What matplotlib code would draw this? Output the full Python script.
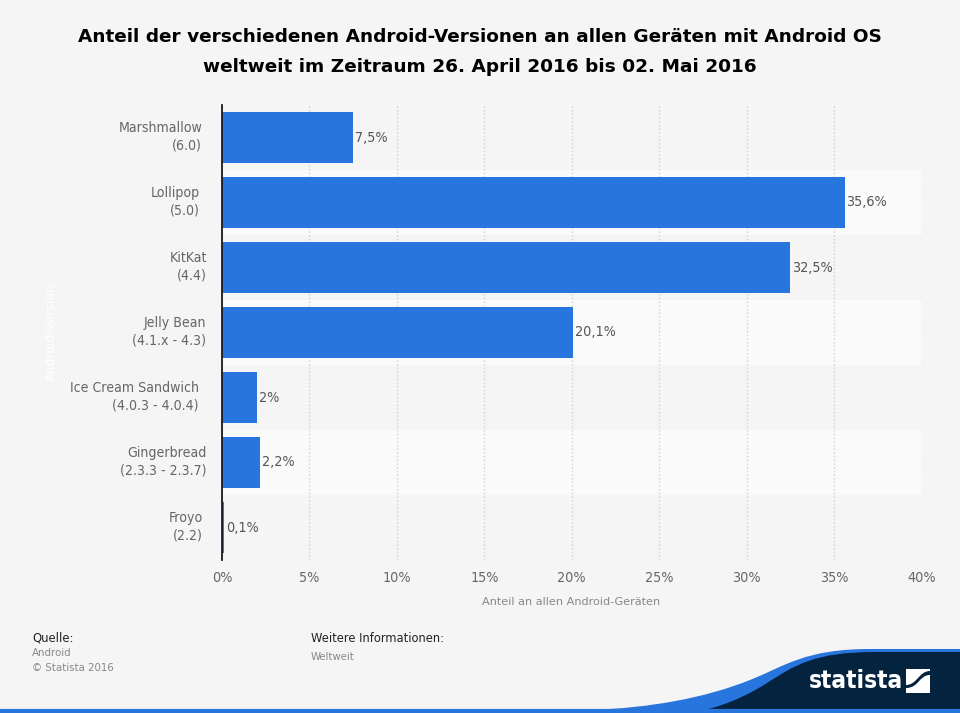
import matplotlib
matplotlib.use("Agg")
import matplotlib.pyplot as plt
from matplotlib.patches import PathPatch
from matplotlib.path import Path

versions = ["Marshmallow\n(6.0)", "Lollipop\n(5.0)", "KitKat\n(4.4)", "Jelly Bean\n(4.1.x - 4.3)",
            "Ice Cream Sandwich\n(4.0.3 - 4.0.4)", "Gingerbread\n(2.3.3 - 2.3.7)", "Froyo\n(2.2)"]
shares = [7.5, 35.6, 32.5, 20.1, 2.0, 2.2, 0.1]
share_labels = ["7,5%", "35,6%", "32,5%", "20,1%", "2%", "2,2%", "0,1%"]
xticks = [0, 5, 10, 15, 20, 25, 30, 35, 40]

# the labels in the original are not lined up, right edge in pixels
label_right = [202, 200, 207, 206, 199, 207, 203]

BG = "#f5f5f5"
BLUE = "#2875de"
NAVY = "#04233f"
COND = "condensed"
W, H = 960, 713

plt.rcParams["font.family"] = ["DejaVu Sans"]

fig = plt.figure(figsize=(9.6, 7.13), dpi=100, facecolor=BG)
ax = fig.add_axes([222 / W, 1 - 560 / H, 699.5 / W, 455 / H], facecolor=BG)
overlay = fig.add_axes([0, 0, 1, 1], facecolor="none")
overlay.set_xlim(0, W)
overlay.set_ylim(H, 0)
overlay.axis("off")

# alternating row bands
for i in range(len(shares)):
    if i % 2 == 1:
        ax.axhspan(i - 0.5, i + 0.5, color="#fafafa", lw=0, zorder=0)

ax.barh(range(len(shares)), shares, height=51 / 65, color=BLUE, zorder=3)
ax.set_xlim(0, 40)
ax.set_ylim(len(shares) - 0.5, -0.5)

ax.grid(axis="x", color="#d2d2d2", linestyle=":", linewidth=1, zorder=1)
ax.set_axisbelow(True)
for side in ["top", "right", "bottom"]:
    ax.spines[side].set_visible(False)
ax.spines["left"].set_color("#1a1a1a")
ax.spines["left"].set_linewidth(1.3)
ax.spines["left"].set_zorder(5)

ax.set_xticks(xticks)
ax.set_xticklabels([f"{t}%" for t in xticks], color="#666666", fontsize=10.3, stretch=COND)
ax.tick_params(axis="x", length=0, pad=8)
ax.set_yticks([])

for i, (val, lab) in enumerate(zip(shares, share_labels)):
    ax.annotate(lab, (val, i), xytext=(1.4, 0), textcoords="offset points", va="center", ha="left",
                color="#555555", fontsize=10.3, stretch=COND, zorder=6)

for i, (name, right) in enumerate(zip(versions, label_right)):
    overlay.text(right, 137 + i * 65, name, ha="right", va="center", color="#666666",
                 fontsize=10.1, stretch=COND, linespacing=1.3, multialignment="right")

overlay.text(480, 52, "Anteil der verschiedenen Android-Versionen an allen Geräten mit Android OS\n"
             "weltweit im Zeitraum 26. April 2016 bis 02. Mai 2016",
             ha="center", va="center", fontsize=13.3, fontweight="bold",
             color="#000000", linespacing=1.85)

overlay.text(571, 602, "Anteil an allen Android-Geräten", ha="center", va="center",
             color="#888888", fontsize=8.1)
overlay.text(51, 332, "Android-Version", rotation=90, ha="center", va="center",
             color="#ffffff", fontsize=9)

overlay.text(32, 638, "Quelle:", ha="left", va="center", color="#222222", fontsize=8.4)
overlay.text(32, 653, "Android", ha="left", va="center", color="#888888", fontsize=8.2, stretch=COND)
overlay.text(32, 668, "© Statista 2016", ha="left", va="center", color="#888888", fontsize=8.2, stretch=COND)
overlay.text(311, 639, "Weitere Informationen:", ha="left", va="center", color="#222222", fontsize=8.3)
overlay.text(311, 657, "Weltweit", ha="left", va="center", color="#888888", fontsize=8.1, stretch=COND)

# footer swoosh
overlay.plot([0, 960], [711, 711], color=BLUE, lw=3, solid_capstyle="butt")
curve = Path([(590, 710), (650, 708), (705, 698), (750, 680), (785, 666), (805, 649), (870, 649),
              (960, 649), (960, 713), (590, 713), (590, 710)],
             [Path.MOVETO, Path.CURVE4, Path.CURVE4, Path.CURVE4, Path.CURVE4, Path.CURVE4, Path.CURVE4,
              Path.LINETO, Path.LINETO, Path.LINETO, Path.CLOSEPOLY])
overlay.add_patch(PathPatch(curve, facecolor=BLUE, edgecolor="none"))
dark = Path([(690, 713), (720, 708), (745, 697), (767, 683), (795, 665), (815, 652), (875, 652),
             (960, 652), (960, 713), (690, 713)],
            [Path.MOVETO, Path.CURVE4, Path.CURVE4, Path.CURVE4, Path.CURVE4, Path.CURVE4, Path.CURVE4,
             Path.LINETO, Path.LINETO, Path.CLOSEPOLY])
overlay.add_patch(PathPatch(dark, facecolor=NAVY, edgecolor="none"))

overlay.text(809, 681, "statista", ha="left", va="center", color="white", fontsize=17.5,
             fontweight="bold", stretch=COND)
# logo mark, two white pieces with an s-curve between them
upper = Path([(906, 669), (930, 669), (930, 671), (919, 671), (917, 685), (906, 685), (906, 669)],
             [Path.MOVETO, Path.LINETO, Path.LINETO, Path.CURVE4, Path.CURVE4, Path.CURVE4, Path.CLOSEPOLY])
lower = Path([(930, 675), (930, 693), (906, 693), (906, 688), (919, 688), (919, 675), (930, 675), (930, 675)],
             [Path.MOVETO, Path.LINETO, Path.LINETO, Path.LINETO, Path.CURVE4, Path.CURVE4, Path.CURVE4, Path.CLOSEPOLY])
overlay.add_patch(PathPatch(upper, facecolor="white", edgecolor="none"))
overlay.add_patch(PathPatch(lower, facecolor="white", edgecolor="none"))

fig.savefig("out.png", dpi=100, facecolor=BG)
